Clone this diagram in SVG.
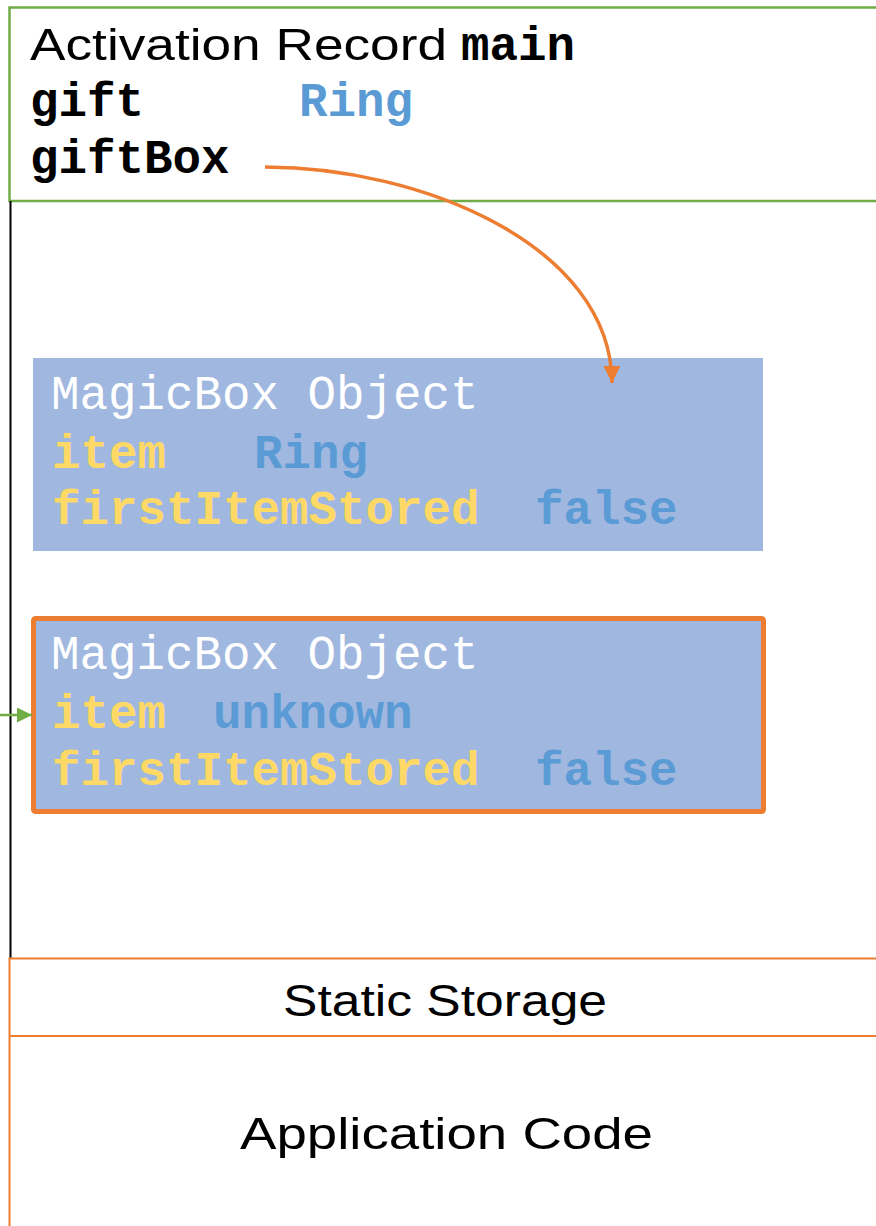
<svg xmlns="http://www.w3.org/2000/svg" width="876" height="1226" viewBox="0 0 876 1226">
<style>
.sans{font-family:"Liberation Sans","DejaVu Sans",sans-serif;fill:#000;}
.mono{font-family:"Liberation Mono","Courier New",monospace;font-size:47.5px;}
.b{font-weight:bold;}
.blk{fill:#000;}
.wht{fill:#FFFFFF;}
.yel{fill:#FFD966;font-weight:bold;}
.blu{fill:#5B9BD5;font-weight:bold;}
.obj{fill:#A0B8E0;}
</style>
<defs>
<marker id="ahO" markerUnits="userSpaceOnUse" markerWidth="20" markerHeight="20" refX="17" refY="8.5" orient="auto">
<path d="M0,0 L17,8.5 L0,17 Z" fill="#ED7D31"/>
</marker>
<marker id="ahG" markerUnits="userSpaceOnUse" markerWidth="18" markerHeight="18" refX="15" refY="7.5" orient="auto">
<path d="M0,0 L15,7.5 L0,15 Z" fill="#70AD47"/>
</marker>
</defs>
<rect width="876" height="1226" fill="#FFFFFF"/>

<g id="activation-record">
<rect x="9.5" y="7.5" width="880" height="193.5" fill="none" stroke="#70AD47" stroke-width="2.5"/>
<text x="30" y="60" class="sans" font-size="44" textLength="417" lengthAdjust="spacingAndGlyphs">Activation Record</text>
<text x="461" y="60" class="mono b blk">main</text>
<text x="30" y="116" class="mono b blk">gift</text>
<text x="299" y="116" class="mono blu">Ring</text>
<text x="30" y="173" class="mono b blk">giftBox</text>
</g>

<g id="stack-line">
<line x1="10.5" y1="201" x2="10.5" y2="958" stroke="#000" stroke-width="2"/>
</g>

<g id="magicbox-1">
<rect x="33" y="358" width="730" height="193" class="obj"/>
<text x="51" y="409" class="mono wht">MagicBox Object</text>
<text x="52" y="468" class="mono yel">item</text>
<text x="254" y="468" class="mono blu">Ring</text>
<text x="52" y="524" class="mono yel">firstItemStored</text>
<text x="535" y="524" class="mono blu">false</text>
</g>

<g id="magicbox-2">
<rect x="33.5" y="618.5" width="730" height="193" rx="2" class="obj" stroke="#ED7D31" stroke-width="5"/>
<text x="51" y="669" class="mono wht">MagicBox Object</text>
<text x="52" y="728" class="mono yel">item</text>
<text x="213" y="728" class="mono blu">unknown</text>
<text x="52" y="785" class="mono yel">firstItemStored</text>
<text x="535" y="785" class="mono blu">false</text>
</g>

<g id="static-storage">
<line x1="9.5" y1="958.5" x2="876" y2="958.5" stroke="#ED7D31" stroke-width="2"/>
<text x="445" y="1016" class="sans" font-size="44" text-anchor="middle" textLength="324" lengthAdjust="spacingAndGlyphs">Static Storage</text>
</g>

<g id="application-code">
<line x1="9.5" y1="1036" x2="876" y2="1036" stroke="#ED7D31" stroke-width="2"/>
<line x1="9.5" y1="957.5" x2="9.5" y2="1226" stroke="#ED7D31" stroke-width="2"/>
<text x="446.5" y="1149" class="sans" font-size="44" text-anchor="middle" textLength="413" lengthAdjust="spacingAndGlyphs">Application Code</text>
</g>

<g id="connectors">
<path d="M265,167 C420,167 611,245 612,383" fill="none" stroke="#ED7D31" stroke-width="3.5" marker-end="url(#ahO)"/>
<line x1="0" y1="715" x2="32" y2="715" stroke="#70AD47" stroke-width="2.5" marker-end="url(#ahG)"/>
</g>
</svg>
